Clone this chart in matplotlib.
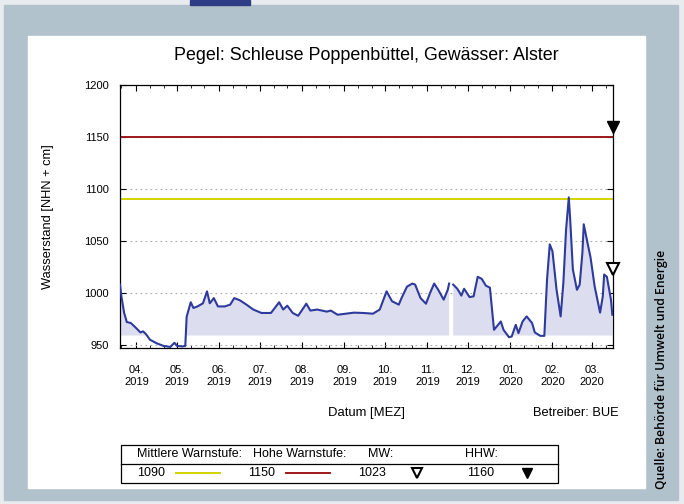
import numpy as np
import pandas as pd
import matplotlib
matplotlib.use("Agg")
import matplotlib.pyplot as plt
import matplotlib.dates as mdates
from matplotlib.patches import Rectangle
from matplotlib.lines import Line2D

plt.rcParams['font.family'] = ['Liberation Sans', 'DejaVu Sans']

# Wasserstand Schleuse Poppenbüttel (Tageswerte)
dates = ["2019-03-20", "2019-03-21", "2019-03-23", "2019-03-25", "2019-03-28",
         "2019-04-01", "2019-04-04", "2019-04-06", "2019-04-08", "2019-04-11",
         "2019-04-16", "2019-04-21", "2019-04-26", "2019-04-29", "2019-05-01",
         "2019-05-05", "2019-05-07", "2019-05-08", "2019-05-11", "2019-05-13",
         "2019-05-16", "2019-05-20", "2019-05-23", "2019-05-25", "2019-05-28",
         "2019-05-31", "2019-06-05", "2019-06-09", "2019-06-12", "2019-06-16",
         "2019-06-21", "2019-06-26", "2019-07-02", "2019-07-09", "2019-07-15",
         "2019-07-18", "2019-07-21", "2019-07-25", "2019-07-29", "2019-08-04",
         "2019-08-07", "2019-08-12", "2019-08-19", "2019-08-22", "2019-08-27",
         "2019-09-02", "2019-09-08", "2019-09-15", "2019-09-22", "2019-09-27",
         "2019-10-02", "2019-10-06", "2019-10-11", "2019-10-13", "2019-10-17",
         "2019-10-21", "2019-10-23", "2019-10-27", "2019-10-31", "2019-11-03",
         "2019-11-06", "2019-11-09", "2019-11-13", "2019-11-16", "2019-11-17",
         "2019-11-18", "2019-11-20", "2019-11-23", "2019-11-26", "2019-11-28",
         "2019-12-02", "2019-12-05", "2019-12-08", "2019-12-11", "2019-12-14",
         "2019-12-17", "2019-12-20", "2019-12-22", "2019-12-25", "2019-12-27",
         "2019-12-31", "2020-01-02", "2020-01-05", "2020-01-07", "2020-01-10",
         "2020-01-13", "2020-01-17", "2020-01-19", "2020-01-23", "2020-01-26",
         "2020-01-28", "2020-01-30", "2020-02-01", "2020-02-04", "2020-02-07",
         "2020-02-09", "2020-02-11", "2020-02-13", "2020-02-14", "2020-02-16",
         "2020-02-19", "2020-02-21", "2020-02-23", "2020-02-24", "2020-02-26",
         "2020-02-29", "2020-03-03", "2020-03-07", "2020-03-09", "2020-03-10",
         "2020-03-12", "2020-03-15", "2020-03-16"]
wasserstand = [1008, 997, 981, 972, 971,
               966, 962, 963, 960.5, 955,
               951.5, 949, 948, 952, 949,
               948.5, 949, 977, 991, 985.5,
               987, 990, 1001.5, 990, 995,
               987, 987, 988.7, 995, 993,
               988.7, 984, 980.7, 980.7, 991,
               984, 987.7, 980.7, 978, 989.6,
               983, 984, 982, 983, 979,
               980, 981, 980.7, 980, 984,
               1001.5, 992, 988.7, 995, 1006,
               1009, 1008, 995, 989.6, 1000,
               1009, 1003, 993.5, 1003, 1009,
               np.nan, 1008, 1004, 997.4, 1004,
               996, 996.7, 1015.5, 1013.5, 1007,
               1005, 964.5, 967.7, 972.5, 964.5,
               957.4, 958, 969.3, 961.3, 972.5,
               977.4, 971, 962, 958.7, 958.7,
               1012.9, 1046.7, 1040, 1003, 977.4,
               1009.7, 1061, 1091.9, 1071, 1022.5,
               1003, 1008, 1038.7, 1066, 1053,
               1034, 1006.4, 981, 996.7, 1017.7,
               1015.5, 993.5, 979]

mittlere_warnstufe = 1090
hohe_warnstufe = 1150
mw = 1023
hhw = 1160
fill_base = 959

x = pd.to_datetime(dates)
y = np.array(wasserstand, dtype=float)
x_start = pd.Timestamp("2019-03-20")
x_end = pd.Timestamp("2020-03-16 12:00")

W, H = 684, 504
def fx(px):
    return px / W
def fy(py):
    return 1 - py / H

fig = plt.figure(figsize=(W / 100, H / 100), dpi=100)
fig.patch.set_facecolor('#e9ecef')

# Rahmen und Panel
fig.add_artist(Rectangle((fx(4), fy(500)), fx(678) - fx(4), fy(5) - fy(500),
                         transform=fig.transFigure, color='#b1c2cd', zorder=0))
fig.add_artist(Rectangle((fx(190), fy(5)), fx(250) - fx(190), fy(0) - fy(5),
                         transform=fig.transFigure, color='#2e3c84', zorder=0))
fig.add_artist(Rectangle((fx(28), fy(488)), fx(645) - fx(28), fy(36) - fy(488),
                         transform=fig.transFigure, color='white', zorder=0))

ax = fig.add_axes([fx(120), fy(348), fx(613) - fx(120), fy(85) - fy(348)])
ax.set_facecolor('white')

ax.fill_between(x, y, fill_base, where=y >= fill_base, interpolate=True,
                color='#dcdef0', linewidth=0, zorder=1)
ax.plot(x, y, color='#2e3a9c', linewidth=1.5, zorder=3)

ax.axhline(mittlere_warnstufe, color='#d2d200', linewidth=1.4, zorder=2)
ax.axhline(hohe_warnstufe, color='#a01818', linewidth=1.4, zorder=2)

ax.plot([x_end], [hhw], marker='v', color='black', markersize=8,
        clip_on=False, zorder=5)
ax.plot([x_end], [mw], marker='v', markerfacecolor='white',
        markeredgecolor='black', markeredgewidth=1.5, markersize=8,
        clip_on=False, zorder=5)

ax.set_xlim(x_start, x_end)
ax.set_ylim(947, 1200)
ax.set_yticks([950, 1000, 1050, 1100, 1150, 1200])
ax.yaxis.grid(True, linestyle=(0, (1.5, 3)), color='#aaaaaa', linewidth=0.8)
ax.set_axisbelow(True)

ax.xaxis.set_major_locator(mdates.MonthLocator())
ax.xaxis.set_minor_locator(mdates.DayLocator(bymonthday=[11, 21]))
ax.xaxis.set_major_formatter(mdates.DateFormatter('%m.\n%Y'))

ax.tick_params(axis='both', which='both', direction='in', top=True,
               right=True, color='black')
ax.tick_params(axis='x', which='major', length=4, width=0.8, pad=12,
               labelsize=8)
ax.tick_params(axis='x', which='minor', length=2, width=0.6)
ax.tick_params(axis='y', which='major', length=4, width=0.8, pad=8,
               labelsize=8)
for lbl in ax.get_xticklabels():
    lbl.set_linespacing(1.25)
for s in ax.spines.values():
    s.set_linewidth(0.9)

ax.set_ylabel('Wasserstand [NHN + cm]', fontsize=9.3, labelpad=22)

fig.text(fx(366), fy(55), 'Pegel: Schleuse Poppenbüttel, Gewässer: Alster',
         ha='center', va='center', fontsize=12.9)
fig.text(fx(366), fy(413), 'Datum [MEZ]', ha='center', va='center', fontsize=9.4)
fig.text(fx(619), fy(413), 'Betreiber: BUE', ha='right', va='center',
         fontsize=9.3)
fig.text(fx(661), fy(369), 'Quelle: Behörde für Umwelt und Energie',
         rotation=90, ha='center', va='center', fontsize=8.8,
         fontweight='semibold', family=['Open Sans', 'DejaVu Sans'])

# Legendentabelle
fig.add_artist(Rectangle((fx(121), fy(483)), fx(558) - fx(121), fy(445) - fy(483),
                         transform=fig.transFigure, facecolor='white',
                         edgecolor='black', linewidth=0.9, zorder=2))
fig.add_artist(Line2D([fx(121), fx(558)], [fy(464), fy(464)],
                      transform=fig.transFigure, color='black', linewidth=0.9,
                      zorder=3))
head_y = fy(454)
row_y = fy(473)
for px, txt in [(137, 'Mittlere Warnstufe:'), (253, 'Hohe Warnstufe:'),
                (368, 'MW:'), (465, 'HHW:')]:
    fig.text(fx(px), head_y, txt, ha='left', va='center', fontsize=9, zorder=4)
for px, val in [(137, mittlere_warnstufe), (248, hohe_warnstufe),
                (358, mw), (467, hhw)]:
    fig.text(fx(px), row_y, str(val), ha='left', va='center', fontsize=9,
             zorder=4)
fig.add_artist(Line2D([fx(176), fx(220)], [row_y, row_y],
                      transform=fig.transFigure, color='#d2d200',
                      linewidth=1.4, zorder=4))
fig.add_artist(Line2D([fx(286), fx(330)], [row_y, row_y],
                      transform=fig.transFigure, color='#a01818',
                      linewidth=1.4, zorder=4))
fig.add_artist(Line2D([fx(417)], [row_y], transform=fig.transFigure,
                      marker='v', markerfacecolor='white',
                      markeredgecolor='black', markeredgewidth=1.5,
                      markersize=7, linestyle='none', zorder=4))
fig.add_artist(Line2D([fx(527)], [row_y], transform=fig.transFigure,
                      marker='v', color='black', markersize=7,
                      linestyle='none', zorder=4))

fig.savefig('out.png', dpi=100, facecolor=fig.get_facecolor())
